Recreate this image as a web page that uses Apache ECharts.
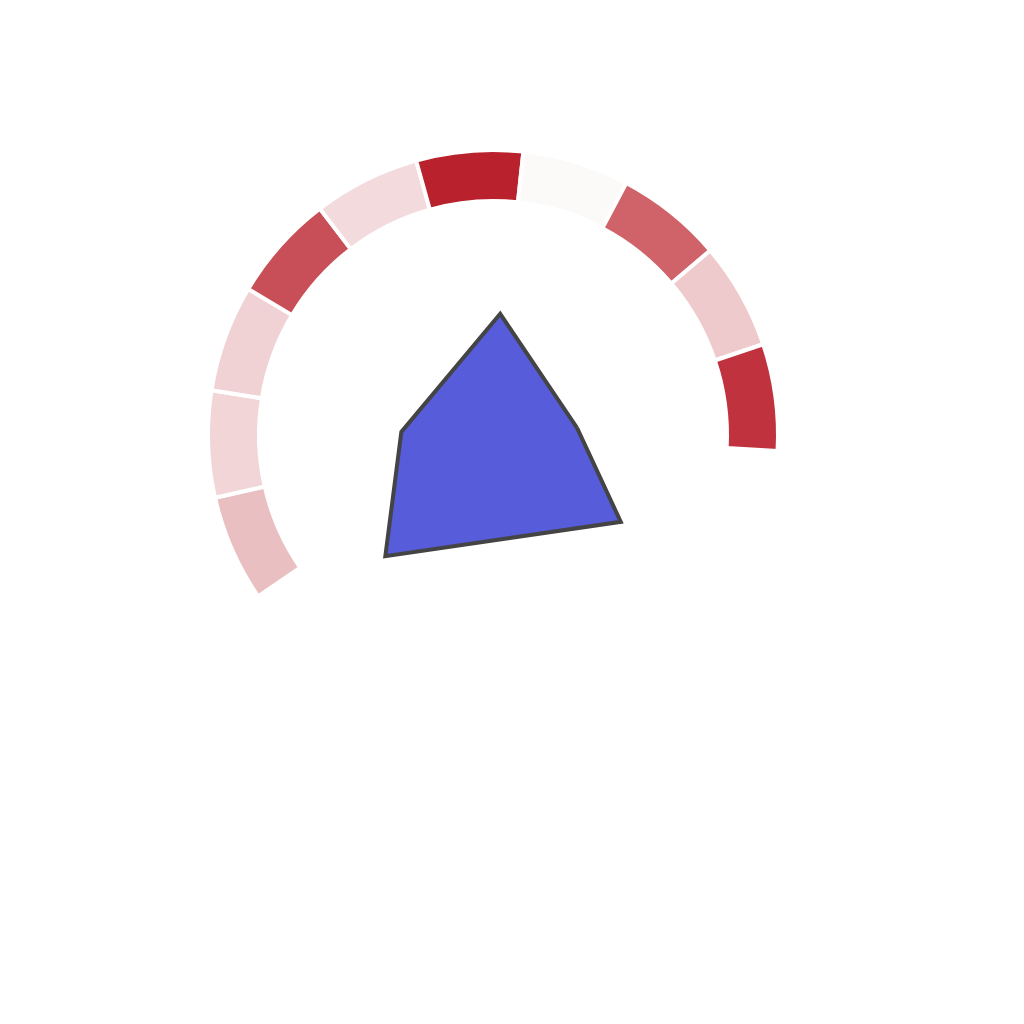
<!DOCTYPE html>
<html>
<head>
<meta charset="utf-8">
<script src="https://cdn.jsdelivr.net/npm/echarts@6/dist/echarts.min.js"></script>
<style>html,body{margin:0;padding:0;background:#fff}#c{width:1024px;height:1024px}</style>
</head>
<body>
<div id="c"></div>
<script>
// Ring segments (clockwise from lower-left end)
const ringCategories = ['S1','S2','S3','S4','S5','S6','S7','S8','S9','S10'];
const ringValues = [1,1,1,1,1,1,1,1,1,1];
const ringColors = ['#eabfc2','#f1d5d7','#f0d2d4','#c84f58','#f3dbdd','#b9212c','#fcfaf9','#cf6369','#eecacc','#c0333e'];

// Polygon vertices in polar form (angle in degrees, radius on a 0-100 scale)
const polyAngle  = [4.8, 86.6, 178.1, 228.4, 325.8, 364.8];
const polyRadius = [29.8, 42.9, 32.4, 57.3, 54.6, 29.8];

const chart = echarts.init(document.getElementById('c'), null, {renderer:'canvas'});
const center = [493, 435];
chart.setOption({
  animation: false,
  backgroundColor: '#fff',
  polar: { center: center, radius: 283 },
  angleAxis: { type: 'value', min: 0, max: 360, startAngle: 0, clockwise: false, show: false },
  radiusAxis: { type: 'value', min: 0, max: 100, show: false },
  series: [
    {
      type: 'pie',
      center: center,
      radius: [234, 285],
      startAngle: 214.5,
      endAngle: -3.2,
      clockwise: true,
      label: { show: false },
      labelLine: { show: false },
      silent: true,
      itemStyle: { borderColor: '#fff', borderWidth: 4 },
      data: ringCategories.map((n, i) => ({ name: n, value: ringValues[i], itemStyle: { color: ringColors[i] } }))
    },
    {
      type: 'line',
      coordinateSystem: 'polar',
      showSymbol: false,
      symbol: 'none',
      lineStyle: { color: '#444444', width: 4, join: 'miter', miterLimit: 10 },
      areaStyle: { color: '#575cdb', opacity: 1 },
      data: polyAngle.map((a, i) => [polyRadius[i], a])
    }
  ]
});
</script>
</body>
</html>
